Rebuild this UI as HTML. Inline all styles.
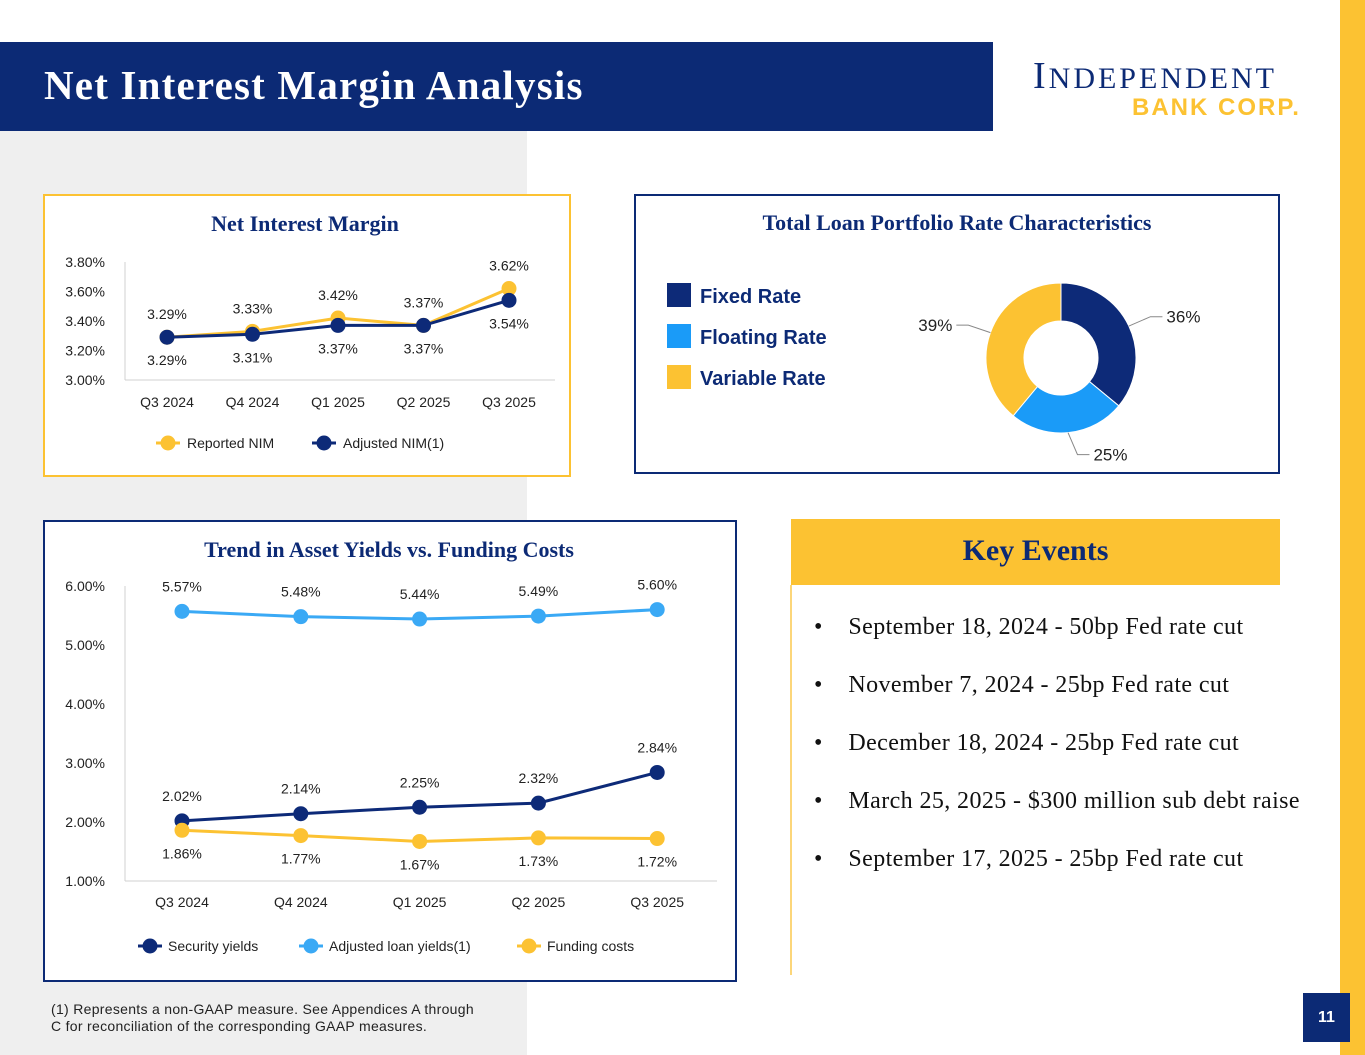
<!DOCTYPE html>
<html><head><meta charset="utf-8">
<style>
body{margin:0;width:1365px;height:1055px;position:relative;background:#fff;font-family:"Liberation Sans",sans-serif;overflow:hidden}
.abs{position:absolute}
.serif{font-family:"Liberation Serif",serif}
</style></head><body>
<div class="abs" style="left:0;top:131px;width:527px;height:924px;background:#efefef"></div>
<div class="abs" style="left:0;top:42px;width:993px;height:89px;background:#0c2a75"></div>
<div class="abs serif" style="left:44px;top:61px;color:#fff;font-size:41px;font-weight:bold;letter-spacing:1.2px">Net Interest Margin Analysis</div>
<div class="abs" style="left:1340px;top:0;width:25px;height:1055px;background:#fcc232"></div>
<div class="abs serif" style="left:1033px;top:54px;color:#0c2a75;font-size:38px;letter-spacing:3px">I<span style="font-size:30px">NDEPENDENT</span></div>
<div class="abs" style="left:1132px;top:94px;color:#fcc232;font-size:24px;font-weight:bold;letter-spacing:2px">BANK CORP.</div>
<div class="abs" style="left:1303px;top:993px;width:47px;height:49px;background:#0c2a75;color:#fff;font-weight:bold;font-size:16px;text-align:center;line-height:49px">11</div>
<div class="abs" style="left:51px;top:1001px;font-size:14px;color:#222;line-height:17px;letter-spacing:0.3px">(1) Represents a non-GAAP measure. See Appendices A through<br>C for reconciliation of the corresponding GAAP measures.</div>

<div class="abs" style="left:43px;top:194px;width:528px;height:283px;border:2px solid #fcc232;background:#fff;box-sizing:border-box"></div>
<svg class="abs" id="nim" style="left:0;top:0" width="600" height="480"></svg>

<div class="abs" style="left:634px;top:194px;width:646px;height:280px;border:2px solid #0c2a75;box-sizing:border-box"></div>
<div class="abs serif" style="left:634px;top:210px;width:646px;text-align:center;font-size:22px;font-weight:bold;color:#0c2a75">Total Loan Portfolio Rate Characteristics</div>
<svg class="abs" id="donut" style="left:0;top:0" width="1365" height="480"></svg>

<div class="abs" style="left:43px;top:520px;width:694px;height:462px;border:2px solid #0c2a75;background:#fff;box-sizing:border-box"></div>
<svg class="abs" id="trend" style="left:0;top:0" width="760" height="990"></svg>

<div class="abs serif" style="left:791px;top:519px;width:489px;height:66px;background:#fcc232;color:#0c2a75;font-size:30px;font-weight:bold;text-align:center;line-height:64px">Key Events</div>
<div class="abs" style="left:790px;top:585px;width:2px;height:390px;background:#fcd67a"></div>
<div class="abs serif" style="left:814px;top:598px;font-size:24px;color:#111;line-height:58px;letter-spacing:0.4px">
<div>•&nbsp;&nbsp;&nbsp;&nbsp;September 18, 2024 - 50bp Fed rate cut</div>
<div>•&nbsp;&nbsp;&nbsp;&nbsp;November 7, 2024 - 25bp Fed rate cut</div>
<div>•&nbsp;&nbsp;&nbsp;&nbsp;December 18, 2024 - 25bp Fed rate cut</div>
<div>•&nbsp;&nbsp;&nbsp;&nbsp;March 25, 2025 - $300 million sub debt raise</div>
<div>•&nbsp;&nbsp;&nbsp;&nbsp;September 17, 2025 - 25bp Fed rate cut</div>
</div>

<script>
const NS="http://www.w3.org/2000/svg";
function mk(svg,tag,attrs,text){const e=document.createElementNS(NS,tag);for(const k in attrs)e.setAttribute(k,attrs[k]);if(text!==undefined)e.textContent=text;svg.appendChild(e);return e;}

const nimCategories=["Q3 2024","Q4 2024","Q1 2025","Q2 2025","Q3 2025"];
const nimReported=[3.29,3.33,3.42,3.37,3.62];
const nimAdjusted=[3.29,3.31,3.37,3.37,3.54];
const nimTicks=[3.00,3.20,3.40,3.60,3.80];

const trendCategories=["Q3 2024","Q4 2024","Q1 2025","Q2 2025","Q3 2025"];
const securityYields=[2.02,2.14,2.25,2.32,2.84];
const loanYields=[5.57,5.48,5.44,5.49,5.60];
const fundingCosts=[1.86,1.77,1.67,1.73,1.72];
const trendTicks=[1,2,3,4,5,6];

const donutLabels=["Fixed Rate","Floating Rate","Variable Rate"];
const donutValues=[36,25,39];

const NAVY="#0d2a78",YEL="#fcc232",LBLUE="#3aa9f5";

(function(){
 const s=document.getElementById('nim');
 let t=mk(s,'text',{x:305,y:231,'text-anchor':'middle','font-family':'Liberation Serif,serif','font-size':22,'font-weight':'bold',fill:'#0c2a75'},'Net Interest Margin');
 
 const x0=125,x1=555,yb=380,yt=262;
 const x=i=>167+i*85.5, y=v=>yb-(v-3.0)/0.8*(yb-yt);
 nimTicks.forEach(v=>{const e=mk(s,'text',{x:105,y:y(v)+5,'text-anchor':'end','font-size':14,fill:'#222'},v.toFixed(2)+'%');});
 mk(s,'line',{x1:x0,y1:yt,x2:x0,y2:yb,stroke:'#d0d0d0'});
 mk(s,'line',{x1:x0,y1:yb,x2:x1,y2:yb,stroke:'#d0d0d0'});
 nimCategories.forEach((c,i)=>{const e=mk(s,'text',{x:x(i),y:407,'text-anchor':'middle','font-size':14,fill:'#222'},c);});
 [[nimReported,YEL,'reported-nim',-1],[nimAdjusted,NAVY,'adjusted-nim',1]].forEach(([d,c,n,side])=>{
  const p=mk(s,'polyline',{points:d.map((v,i)=>x(i)+','+y(v)).join(' '),fill:'none',stroke:c,'stroke-width':3});
  
  d.forEach((v,i)=>{const m=mk(s,'circle',{cx:x(i),cy:y(v),r:7.5,fill:c});
   const ly=side<0?Math.min(y(v),y(nimAdjusted[i]))-18:Math.max(y(v),y(nimReported[i]))+28;
   const l=mk(s,'text',{x:x(i),y:ly,'text-anchor':'middle','font-size':14,fill:'#222'},v.toFixed(2)+'%');});
 });
 const lg=[[168,YEL,'Reported NIM'],[324,NAVY,'Adjusted NIM(1)']];
 lg.forEach(([lx,c,txt])=>{mk(s,'line',{x1:lx-12,y1:443,x2:lx+12,y2:443,stroke:c,'stroke-width':3});mk(s,'circle',{cx:lx,cy:443,r:7.5,fill:c});
  const e=mk(s,'text',{x:lx+19,y:448,'font-size':14,fill:'#222'},txt);});
})();

(function(){
 const s=document.getElementById('trend');
 let t=mk(s,'text',{x:389,y:557,'text-anchor':'middle','font-family':'Liberation Serif,serif','font-size':22,'font-weight':'bold',fill:'#0c2a75'},'Trend in Asset Yields vs. Funding Costs');
 
 const x0=125,x1=717,yb=881,yt=586;
 const x=i=>182+i*118.8, y=v=>yb-(v-1)/5*(yb-yt);
 trendTicks.forEach(v=>{const e=mk(s,'text',{x:105,y:y(v)+5,'text-anchor':'end','font-size':14,fill:'#222'},v.toFixed(2)+'%');});
 mk(s,'line',{x1:x0,y1:yt,x2:x0,y2:yb,stroke:'#d0d0d0'});
 mk(s,'line',{x1:x0,y1:yb,x2:x1,y2:yb,stroke:'#d0d0d0'});
 trendCategories.forEach((c,i)=>{const e=mk(s,'text',{x:x(i),y:907,'text-anchor':'middle','font-size':14,fill:'#222'},c);});
 [[loanYields,LBLUE,'loan-yields',-20],[securityYields,NAVY,'security-yields',-20],[fundingCosts,YEL,'funding-costs',28]].forEach(([d,c,n,off])=>{
  const p=mk(s,'polyline',{points:d.map((v,i)=>x(i)+','+y(v)).join(' '),fill:'none',stroke:c,'stroke-width':3});
  
  d.forEach((v,i)=>{const m=mk(s,'circle',{cx:x(i),cy:y(v),r:7.5,fill:c});
   const l=mk(s,'text',{x:x(i),y:y(v)+off,'text-anchor':'middle','font-size':14,fill:'#222'},v.toFixed(2)+'%');});
 });
 const lg=[[150,NAVY,'Security yields'],[311,LBLUE,'Adjusted loan yields(1)'],[529,YEL,'Funding costs']];
 lg.forEach(([lx,c,txt])=>{mk(s,'line',{x1:lx-12,y1:946,x2:lx+12,y2:946,stroke:c,'stroke-width':3});mk(s,'circle',{cx:lx,cy:946,r:7.5,fill:c});
  const e=mk(s,'text',{x:lx+18,y:951,'font-size':14,fill:'#222'},txt);});
})();

(function(){
 const s=document.getElementById('donut');
 const cols=[NAVY,"#1a9bf8",YEL];
 const cx=1061,cy=358,R=75,r=37;
 const total=donutValues.reduce((a,b)=>a+b,0);
 donutLabels.forEach((lab,i)=>{
  const ly=295+i*41;
  const sq=mk(s,'rect',{x:667,y:ly-12,width:24,height:24,fill:cols[i]});
  const e=mk(s,'text',{x:700,y:ly+8,'font-size':20,'font-weight':'bold',fill:'#0c2a75'},lab);
 });
 let a=-Math.PI/2;
 donutValues.forEach((v,i)=>{
  const a2=a+v/total*2*Math.PI;const lg=(a2-a)>Math.PI?1:0;
  const P=(rad,an)=>[cx+rad*Math.cos(an),cy+rad*Math.sin(an)];
  const [x1,y1]=P(R,a),[x2,y2]=P(R,a2),[x3,y3]=P(r,a2),[x4,y4]=P(r,a);
  const p=mk(s,'path',{d:`M${x1},${y1}A${R},${R} 0 ${lg} 1 ${x2},${y2}L${x3},${y3}A${r},${r} 0 ${lg} 0 ${x4},${y4}Z`,fill:cols[i],stroke:'#fff','stroke-width':1});
  
  const m=(a+a2)/2;const [ex,ey]=P(R,m);
  const right=Math.cos(m)>0;const bx=ex+(right?15:-15)*Math.abs(Math.cos(m))+ (right?8:-8), by=ey+Math.sin(m)*22;
  mk(s,'polyline',{points:`${ex},${ey} ${bx},${by} ${bx+(right?12:-12)},${by}`,fill:'none',stroke:'#888'});
  const l=mk(s,'text',{x:bx+(right?16:-16),y:by+6,'text-anchor':right?'start':'end','font-size':17,fill:'#222'},v+'%');
  
  a=a2;
 });
})();
</script>
</body></html>
